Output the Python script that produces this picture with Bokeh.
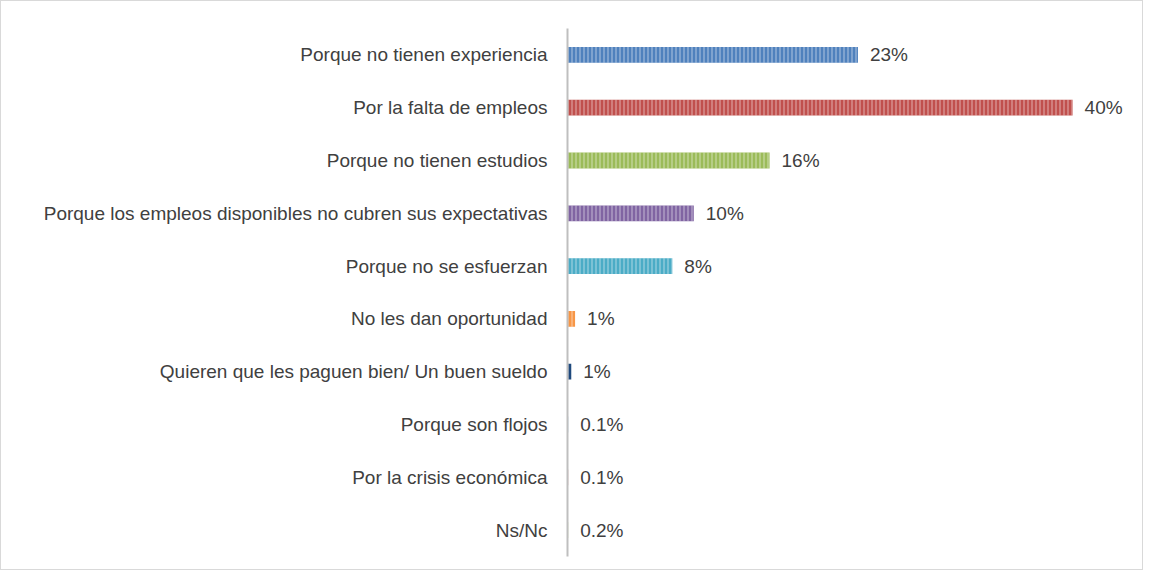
from bokeh.plotting import figure
from bokeh.models import ColumnDataSource, FactorRange, Range1d
from bokeh.embed import file_html
from bokeh.resources import INLINE
from bokeh.core.properties import value

categories = [
    "Porque no tienen experiencia",
    "Por la falta de empleos",
    "Porque no tienen estudios",
    "Porque los empleos disponibles no cubren sus expectativas",
    "Porque no se esfuerzan",
    "No les dan oportunidad",
    "Quieren que les paguen bien/ Un buen sueldo",
    "Porque son flojos",
    "Por la crisis económica",
    "Ns/Nc",
]
values = [23, 40, 16, 10, 8.3, 0.6, 0.3, 0.05, 0.05, 0.05]
labels = ["23%", "40%", "16%", "10%", "8%", "1%", "1%", "0.1%", "0.1%", "0.2%"]
colors = ["#4F81BD", "#C0504D", "#9BBB59", "#8064A2", "#4BACC6",
          "#F79646", "#1F497D", "#4F81BD", "#C0504D", "#9BBB59"]

FONT = "Liberation Sans"

src = ColumnDataSource(dict(cat=categories, val=values, lab=labels, col=colors))

p = figure(width=1143, height=570, output_backend="svg", toolbar_location=None,
           y_range=FactorRange(*list(reversed(categories))),
           x_range=Range1d(0, 44.9))
p.min_border_left = 566
p.min_border_right = 10
p.min_border_top = 27
p.min_border_bottom = 15
p.outline_line_color = None
p.background_fill_color = "white"
p.border_fill_color = "white"
p.styles = {"border": "1px solid #d9d9d9"}

p.hbar(y="cat", right="val", left=0, height=0.3, source=src,
       fill_color="col", line_color=None,
       hatch_pattern="|", hatch_color="white", hatch_alpha=0.45,
       hatch_scale=4, hatch_weight=1.2)

p.text(x="val", y="cat", text="lab", source=src, x_offset=12,
       text_baseline="middle", text_align="left",
       text_font=value(FONT), text_font_size="19px", text_color="#404040")

p.xaxis.visible = False
p.xgrid.visible = False
p.ygrid.visible = False
p.yaxis.axis_line_color = "#BFBFBF"
p.yaxis.axis_line_width = 2
p.yaxis.major_tick_line_color = None
p.yaxis.minor_tick_line_color = None
p.yaxis.major_label_standoff = 14
p.yaxis.major_label_text_font = FONT
p.yaxis.major_label_text_font_size = "19px"
p.yaxis.major_label_text_color = "#404040"

open("out.html", "w").write(file_html(p, INLINE))
